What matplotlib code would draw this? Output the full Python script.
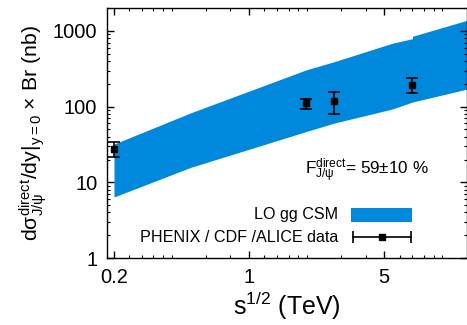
import matplotlib
matplotlib.use("Agg")
import matplotlib.pyplot as plt
from matplotlib.patches import Rectangle
from matplotlib.ticker import FixedLocator, NullFormatter

plt.rcParams['font.family'] = ['Liberation Sans', 'DejaVu Sans']
plt.rcParams['mathtext.fontset'] = 'custom'
plt.rcParams['mathtext.rm'] = 'Liberation Sans'
plt.rcParams['mathtext.it'] = 'Liberation Sans'
plt.rcParams['mathtext.bf'] = 'Liberation Sans:bold'

# LO gg CSM band (two pieces, small step at 7 TeV)
band_x_a = [0.2, 0.5, 1.96, 2.76, 5.5, 7.0]
band_hi_a = [32, 83, 304, 393, 687, 790]
band_lo_a = [6.4, 15.8, 46.6, 60.7, 93, 115]
band_x_b = [7.0, 14.0]
band_hi_b = [850, 1427]
band_lo_b = [115, 175]

# PHENIX / CDF / ALICE data
data_x = [0.2, 1.96, 2.76, 7.0]
data_y = [27.6, 110, 117, 193]
data_err = [6.0, 18, 38, 43]

x_ticks = [0.2, 1, 5]
x_ticklabels = ['0.2', '1', '5']
x_minor = [0.24, 0.28, 0.32, 0.36, 0.4, 0.6, 0.8, 1.2, 1.4, 1.6, 1.8, 2, 3, 4, 6, 7, 8, 9, 10]
y_ticks = [1, 10, 100, 1000]
y_ticklabels = ['1', '10', '100', '1000']

blue = '#0088DC'

fig = plt.figure(figsize=(4.67, 3.25), dpi=100)
ax = fig.add_axes([107/467, 67/325, 360/467, 250/325])
ax.set_xscale('log')
ax.set_yscale('log')

ax.fill_between(band_x_a, band_lo_a, band_hi_a, color=blue, linewidth=0)
ax.fill_between(band_x_b, band_lo_b, band_hi_b, color=blue, linewidth=0)

ax.errorbar(data_x, data_y, yerr=data_err, fmt='s', color='black', ms=5,
            capsize=4, elinewidth=1.2, capthick=1.2)

ax.set_xlim(0.184, 13.4)
ax.set_ylim(1, 2009)

ax.xaxis.set_major_locator(FixedLocator(x_ticks))
ax.set_xticklabels(x_ticklabels)
ax.xaxis.set_minor_locator(FixedLocator(x_minor))
ax.xaxis.set_minor_formatter(NullFormatter())
ax.yaxis.set_major_locator(FixedLocator(y_ticks))
ax.set_yticklabels(y_ticklabels)
ax.yaxis.set_minor_formatter(NullFormatter())

ax.tick_params(which='both', direction='in', top=True, right=True, labelsize=14.5)
ax.tick_params(which='major', length=5, width=1)
ax.tick_params(which='minor', length=2.5, width=0.8)
ax.tick_params(axis='x', which='major', pad=7)
ax.tick_params(axis='y', which='major', pad=7)
for s in ax.spines.values():
    s.set_linewidth(1.0)

ax.set_xlabel(r'$\mathrm{s^{1/2}}$ (TeV)', fontsize=18, labelpad=2)
ax.set_ylabel(r'$\mathrm{dσ^{direct}_{J/ψ}/dy|_{y=0}}$ × Br (nb)', fontsize=15.3, labelpad=3)

ax.text(0.55, 0.35, r'$\mathrm{F^{direct}_{J/ψ}}$= 59±10 %', transform=ax.transAxes,
        fontsize=12.3, va='center', ha='left')

# legend (drawn manually, gnuplot style)
ax.text(0.642, 0.172, 'LO gg CSM', transform=ax.transAxes, fontsize=11.6,
        ha='right', va='center')
ax.add_patch(Rectangle((0.677, 0.145), 0.169, 0.054, transform=ax.transAxes,
                       color=blue, linewidth=0))
ax.text(0.642, 0.083, 'PHENIX / CDF /ALICE data', transform=ax.transAxes, fontsize=11.6,
        ha='right', va='center')
ax.plot([0.683, 0.844], [0.083, 0.083], transform=ax.transAxes, color='black', lw=1.2)
ax.plot([0.683, 0.844], [0.083, 0.083], transform=ax.transAxes, color='black',
        ls='none', marker='|', ms=8, mew=1.2)
ax.plot([0.763], [0.083], transform=ax.transAxes, color='black', marker='s', ms=5, ls='none')

fig.savefig('out.png', dpi=100)
